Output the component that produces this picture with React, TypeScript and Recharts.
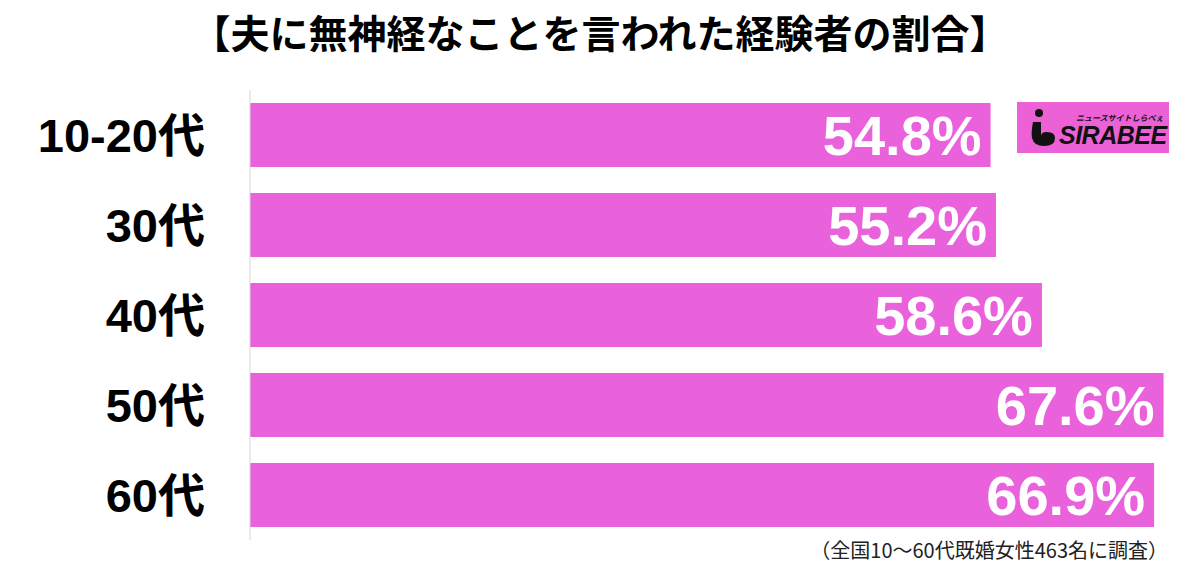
import React from 'react';
import { BarChart, Bar, XAxis, YAxis, LabelList } from 'recharts';

// Survey: share of married women who were told something insensitive by their husband
const ageGroups = ['10-20代', '30代', '40代', '50代', '60代'];
const shares = [54.8, 55.2, 58.6, 67.6, 66.9];

const TITLE = '【夫に無神経なことを言われた経験者の割合】';
const NOTE = '（全国10〜60代既婚女性463名に調査）';

const BAR_COLOR = '#E962DC';
const JP_FONT = '"Liberation Sans", "Noto Sans CJK JP", sans-serif';

const chartData = ageGroups.map((group, i) => ({ group, share: shares[i] }));

const Logo: React.FC = () => (
  <div
    style={{
      position: 'absolute',
      left: 1017,
      top: 102,
      width: 152,
      height: 51,
      background: '#EC62D6',
      fontFamily: JP_FONT,
      color: '#111',
    }}
  >
    {/* "i" mascot mark */}
    <svg width={40} height={51} style={{ position: 'absolute', left: 0, top: 0 }}>
      <circle cx={22} cy={11} r={4} fill="#111" />
      <path
        d="M16 20 Q14 30 15 36 Q17 44 27 44 Q38 44 38 36 Q38 30 30 30 Q24 30 24 34 L24 20 Z"
        fill="#111"
      />
    </svg>
    <span
      style={{
        position: 'absolute',
        left: 59,
        top: 12,
        fontSize: 8,
        fontWeight: 700,
        fontStyle: 'italic',
        whiteSpace: 'nowrap',
        lineHeight: '10px',
      }}
    >
      ニュースサイトしらべぇ
    </span>
    <span
      style={{
        position: 'absolute',
        left: 42,
        top: 19,
        fontSize: 25,
        fontWeight: 900,
        fontStyle: 'italic',
        letterSpacing: -0.5,
        lineHeight: '28px',
      }}
    >
      SIRABEE
    </span>
  </div>
);

export default function App() {
  return (
    <div
      style={{
        position: 'absolute',
        left: 0,
        top: 0,
        width: 1200,
        height: 573,
        background: '#fff',
        fontFamily: JP_FONT,
      }}
    >
      <div
        style={{
          position: 'absolute',
          left: 0,
          top: 9,
          width: 1200,
          textAlign: 'center',
          fontSize: 39,
          fontWeight: 700,
          lineHeight: '44px',
          color: '#000',
          fontFamily: '"Noto Sans CJK JP", sans-serif',
        }}
      >
        {TITLE}
      </div>

      <BarChart
        width={1200}
        height={573}
        data={chartData}
        layout="vertical"
        margin={{ top: 90, right: 4, bottom: 33, left: 0 }}
        barCategoryGap={13}
      >
        <XAxis type="number" domain={[0, 70]} hide />
        <YAxis
          type="category"
          dataKey="group"
          width={250}
          tickLine={false}
          axisLine={{ stroke: '#d6d6d6' }}
          tickMargin={39}
          tick={{ fill: '#000', fontSize: 47, fontWeight: 700, fontFamily: JP_FONT }}
        />
        <Bar dataKey="share" fill={BAR_COLOR} isAnimationActive={false}>
          <LabelList
            dataKey="share"
            position="insideRight"
            offset={9}
            formatter={(v: number) => `${v.toFixed(1)}%`}
            style={{ fill: '#fff', fontSize: 56, fontWeight: 700, fontFamily: JP_FONT }}
          />
        </Bar>
      </BarChart>

      <Logo />

      <div
        style={{
          position: 'absolute',
          right: 32,
          top: 536,
          fontSize: 20,
          lineHeight: '28px',
          color: '#222',
          whiteSpace: 'nowrap',
          fontFamily: '"Noto Sans CJK JP", sans-serif',
        }}
      >
        {NOTE}
      </div>
    </div>
  );
}
